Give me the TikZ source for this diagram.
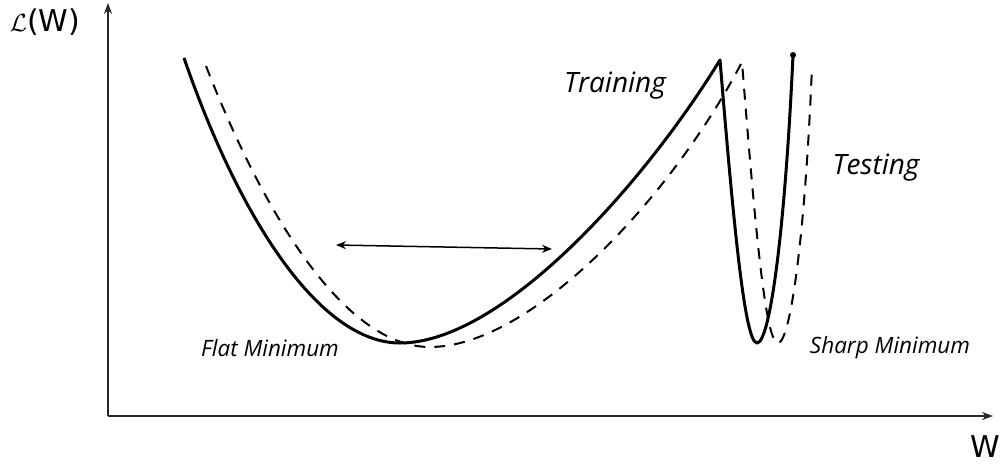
\documentclass[tikz,border=0pt]{standalone}
\usepackage{amsmath}
\usepackage{fontspec}
\setsansfont{DejaVu Sans}
\newfontfamily\handfont{Open Sans}
\usepackage{tikz}
\usetikzlibrary{positioning, arrows.meta}

\tikzset{
  axisline/.style={line width=2pt, black!85, -{Stealth[length=11pt, width=8pt]}},
  trainline/.style={line width=3pt, black},
  testline/.style={line width=2pt, black, dash pattern=on 11pt off 9pt},
  hand/.style={font=\handfont\itshape\fontsize{28}{32}\selectfont},
  handsmall/.style={font=\handfont\itshape\fontsize{22.5}{26}\selectfont},
  axislabel/.style={font=\sffamily\fontsize{30}{34}\selectfont}
}

\begin{document}
\begin{tikzpicture}[x=1pt, y=-1pt]
        \useasboundingbox (0,0) rectangle (1003,474);

        % Axes
        \coordinate (origin) at (108,416);
        \coordinate (ytop) at (108,3);
        \coordinate (xend) at (993,416);
        \draw[axisline] (origin) -- (ytop);
        \draw[axisline] (origin) -- (xend);
        \node[axislabel] (lossw) at (45,22) {$\mathcal{L}$(W)};
        \node[axislabel] (wlabel) at (985,447) {W};

        % Training curve
        \draw[trainline, line join=round] (184,58)
          .. controls (240,220) and (320,343) .. (400,343)
          .. controls (500,343) and (640,190) .. (720,60)
          .. controls (734,230) and (745,343) .. (757,343)
          .. controls (770,343) and (785,230) .. (793,55);
        \fill (793,55) circle (3pt);

        % Testing curve
        \draw[testline] (206,66)
          .. controls (270,230) and (350,347) .. (430,347)
          .. controls (530,347) and (670,200) .. (742,62)
          .. controls (756,240) and (766,343) .. (778,343)
          .. controls (790,343) and (805,240) .. (812,66);

        % Width of the flat minimum
        \coordinate (wleft) at (336,245);
        \coordinate (wright) at (552,249);
        \draw[line width=1.5pt, {Stealth[length=10pt, width=8pt]}-{Stealth[length=10pt, width=8pt]}] (wleft) -- (wright);

        % Labels
        \node[hand] (train) at (615,86) {Training};
        \node[hand] (test) at (876,168) {Testing};
        \node[handsmall] (flat) at (270,348) {Flat Minimum};
        \node[handsmall] (sharp) at (890,348) {Sharp Minimum};
      \end{tikzpicture}
\end{document}
